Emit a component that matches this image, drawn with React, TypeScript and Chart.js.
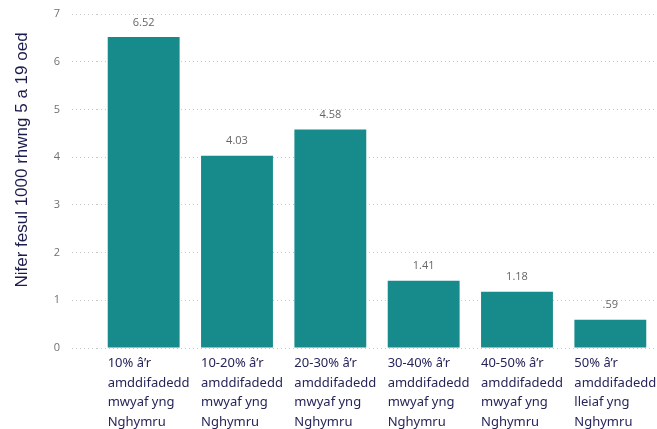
import React, { useEffect, useRef } from "react";
import { Chart, registerables } from "chart.js";

Chart.register(...registerables);

const categories: string[][] = [
  ["10% â’r", "amddifadedd", "mwyaf yng", "Nghymru"],
  ["10-20% â’r", "amddifadedd", "mwyaf yng", "Nghymru"],
  ["20-30% â’r", "amddifadedd", "mwyaf yng", "Nghymru"],
  ["30-40% â’r", "amddifadedd", "mwyaf yng", "Nghymru"],
  ["40-50% â’r", "amddifadedd", "mwyaf yng", "Nghymru"],
  ["50% â’r", "amddifadedd", "lleiaf yng", "Nghymru"],
];
const values: number[] = [6.52, 4.03, 4.58, 1.41, 1.18, 0.59];
const valueLabels: string[] = ["6.52", "4.03", "4.58", "1.41", "1.18", ".59"];
const yTicks: number[] = [0, 1, 2, 3, 4, 5, 6, 7];
const yTitle = "Nifer fesul 1000 rhwng 5 a 19 oed";

const BAR_COLOR = "#178a8c";
const GRID_COLOR = "#c8c8c8";

const valueLabelPlugin = {
  id: "valueLabels",
  afterDatasetsDraw(chart: any) {
    const ctx = chart.ctx;
    const meta = chart.getDatasetMeta(0);
    ctx.save();
    ctx.font = "11px 'Open Sans'";
    ctx.fillStyle = "#666666";
    ctx.textAlign = "center";
    ctx.textBaseline = "bottom";
    meta.data.forEach((bar: any, i: number) => {
      ctx.fillText(valueLabels[i], bar.x, bar.y - 9);
    });
    ctx.restore();
  },
};

const yTitlePlugin = {
  id: "yTitleCustom",
  afterDraw(chart: any) {
    const ctx = chart.ctx;
    ctx.save();
    ctx.translate(22, 160);
    ctx.rotate(-Math.PI / 2);
    ctx.font = "17px 'Liberation Sans'";
    ctx.fillStyle = "#1c1b4d";
    ctx.textAlign = "center";
    ctx.textBaseline = "middle";
    ctx.fillText(yTitle, 0, 0);
    ctx.restore();
  },
};

export default function App() {
  const ref = useRef<HTMLCanvasElement | null>(null);

  useEffect(() => {
    if (!ref.current) return;
    const chart = new Chart(ref.current, {
      type: "bar",
      data: {
        labels: categories as any,
        datasets: [
          {
            data: values,
            backgroundColor: BAR_COLOR,
            barPercentage: 0.77,
            categoryPercentage: 1,
          },
        ],
      },
      plugins: [valueLabelPlugin, yTitlePlugin],
      options: {
        animation: false,
        responsive: true,
        maintainAspectRatio: false,
        layout: { padding: { top: 14, right: 0, bottom: 0, left: 0 } },
        plugins: {
          legend: { display: false },
          tooltip: { enabled: false },
        },
        scales: {
          x: {
            grid: { display: false, drawTicks: false },
            border: { display: false },
            ticks: {
              autoSkip: false,
              maxRotation: 0,
              minRotation: 0,
              align: "start",
              labelOffset: -36,
              padding: 6,
              color: "#26255a",
              font: { family: "'Noto Sans'", size: 13, lineHeight: 1.5 },
            },
            afterFit: (scale: any) => {
              scale.paddingLeft = 0;
              scale.paddingRight = 0;
              scale.height = 81;
            },
          },
          y: {
            min: 0,
            max: 7,
            afterBuildTicks: (scale: any) => {
              scale.ticks = yTicks.map((v) => ({ value: v }));
            },
            afterFit: (scale: any) => {
              scale.width = 97;
              scale.paddingTop = 0;
              scale.paddingBottom = 0;
            },
            grid: {
              color: GRID_COLOR,
              lineWidth: 1,
              tickLength: 25,
              tickColor: GRID_COLOR,
              tickBorderDash: [1, 3],
            },
            border: { display: false, dash: [1, 3] },
            ticks: {
              padding: 12,
              color: "#707070",
              font: { family: "'Open Sans'", size: 11 },
            },
          },
        },
      } as any,
    });
    return () => chart.destroy();
  }, []);

  return (
    <div style={{ position: "fixed", left: 0, top: 0, width: 657, height: 429, background: "#ffffff" }}>
      <canvas ref={ref} />
    </div>
  );
}
